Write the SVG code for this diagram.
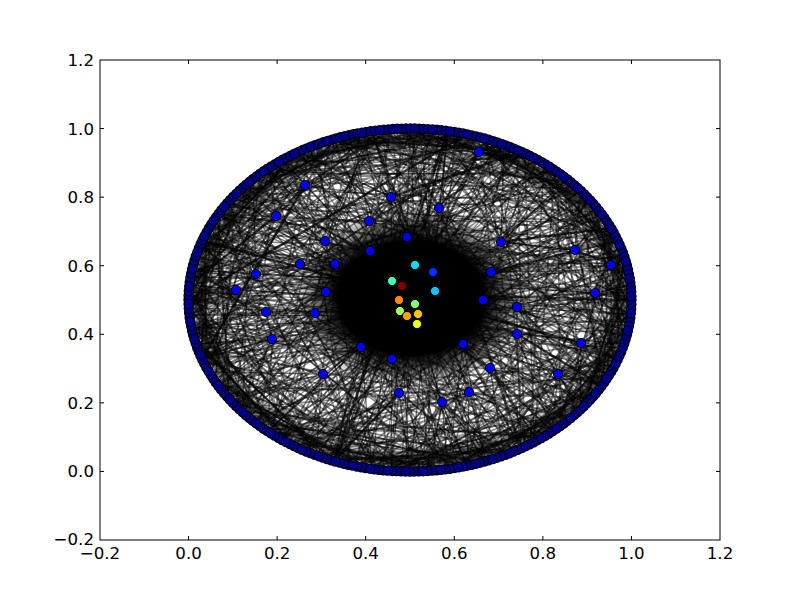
<svg xmlns="http://www.w3.org/2000/svg" xmlns:xlink="http://www.w3.org/1999/xlink" width="800" height="600" viewBox="0 0 800 600">
<style>
.e{fill:none;stroke:#000;stroke-opacity:.5;stroke-width:1.5;vector-effect:non-scaling-stroke}
.s{fill:none;stroke:#000;stroke-opacity:.45;stroke-width:1.2;vector-effect:non-scaling-stroke}
.c{fill:none;stroke:#000;stroke-opacity:.45;stroke-width:1.7;vector-effect:non-scaling-stroke}
.t{fill:none;stroke:#000;stroke-opacity:.6;stroke-width:2.6}
.tick{stroke:#000;stroke-width:1}
.lab{font-family:"DejaVu Sans","Liberation Sans",sans-serif;font-size:16.67px;fill:#000}
.pd{fill:none;stroke-linecap:round;stroke-dasharray:0 17.703}
.pk{stroke:#000;stroke-width:10.5}
.pb{stroke:#000088;stroke-width:8.5}
.n{stroke:#000;stroke-width:1}
.blue{fill:#0000f2}
</style>
<defs>
<radialGradient id="core" cx="50%" cy="50%" r="50%">
<stop offset="0" stop-color="#000" stop-opacity="1"/>
<stop offset="0.62" stop-color="#000" stop-opacity="1"/>
<stop offset="1" stop-color="#000" stop-opacity="0"/>
</radialGradient>
<g id="ch">
<path class="c" d="M631 300L299 152M631 285L202 359M628 270L218 214M624 256L372 469M618 241L391 129M611 228L521 448M602 214L192 270M591 202L299 448M580 190L268 169M567 179L602 386M552 169L189 315M537 160L429 471M521 152L229 202M504 145L240 410M486 139L552 431M467 134L189 300M448 131L334 461M429 129L196 256M410 129L486 461M391 129L209 372M372 131L624 344M353 134L283 440M334 139L618 241M316 145L448 469M299 152L631 315M283 160L196 344M268 169L552 431M253 179L504 145M240 190L391 471M229 202L618 359M218 214L580 190M209 228L253 421M202 241L504 455M196 256L467 134M192 270L316 455M189 285L580 410M189 300L624 256M189 315L334 139M192 330L467 466M196 344L628 330M202 359L537 160M209 372L253 179M218 386L591 398M229 398L448 131M240 410L521 448M253 421L192 270M268 431L611 228M283 440L372 131M299 448L611 372M316 455L202 241M334 461L567 179M353 466L567 421M372 469L240 190M391 471L628 270M410 471L196 344M429 471L429 129M448 469L602 214M467 466L218 386M486 461L283 160M504 455L628 330M521 448L486 139M537 440L189 300M552 431L299 448M567 421L353 134M580 410L631 285M591 398L353 466M602 386L218 214M611 372L521 152M618 359L268 431M624 344L410 129M628 330L410 471M631 315L253 179"/>
<path class="c" d="M631 300L580 190M628 270L537 160M602 214L467 134M567 179L391 129M521 152L334 139M429 129L268 169M372 131L218 214M299 152L196 256M240 190L189 315M202 241L209 372M189 285L253 421M196 344L299 448M229 398L372 469M283 440L448 469M334 461L521 448M410 471L567 421M486 461L611 372M537 440L628 330M580 410L628 270M618 359L618 241M631 315L591 202M624 256L486 139M467 134L283 160M316 145L189 285M218 214L229 398M192 330L334 461M268 431L486 461M391 471L602 386M521 448L631 300M631 285L611 228M552 169L486 139M391 129L316 145M253 179L209 228M189 300L202 359M253 421L316 455M410 471L486 461M567 421L618 359"/>
</g>
<g id="sp">
<path class="s" d="M415 265L631 300M435 291L631 285M392 281L628 270M402 286L624 256M399 300L618 241M415 304L611 228M400 311L602 214M407 316L591 202M418 314L580 190M417 324L567 179M415 265L552 169M435 291L537 160M392 281L521 152M402 286L504 145M399 300L486 139M415 304L467 134M400 311L448 131M407 316L429 129M418 314L410 129M417 324L391 129M415 265L372 131M435 291L353 134M392 281L334 139M402 286L316 145M399 300L299 152M415 304L283 160M400 311L268 169M407 316L253 179M418 314L240 190M417 324L229 202M415 265L218 214M435 291L209 228M392 281L202 241M402 286L196 256M399 300L192 270M415 304L189 285M400 311L189 300M407 316L189 315M418 314L192 330M417 324L196 344M415 265L202 359M435 291L209 372M392 281L218 386M402 286L229 398M399 300L240 410M415 304L253 421M400 311L268 431M407 316L283 440M418 314L299 448M417 324L316 455M415 265L334 461M435 291L353 466M392 281L372 469M402 286L391 471M399 300L410 471M415 304L429 471M400 311L448 469M407 316L467 466M418 314L486 461M417 324L504 455M415 265L521 448M435 291L537 440M392 281L552 431M402 286L567 421M399 300L580 410M415 304L591 398M400 311L602 386M407 316L611 372M418 314L618 359M417 324L624 344M415 265L628 330M435 291L631 315"/>
<path class="s" d="M399 300L631 292M407 316L630 277M415 265L626 263M417 324L621 248M392 281L615 234M415 304L607 221M418 314L597 208M435 291L586 196M400 311L574 184M402 286L560 174M399 300L545 164M407 316L529 156M415 265L513 148M417 324L495 142M392 281L477 136M415 304L458 132M418 314L439 130M435 291L420 129M400 311L400 129M402 286L382 130M399 300L363 132M407 316L344 136M415 265L325 142M417 324L307 148M392 281L291 156M415 304L275 164M418 314L260 174M435 291L246 184M400 311L234 196M402 286L223 208M399 300L213 221M407 316L205 234M415 265L199 248M417 324L194 263M392 281L190 277M415 304L189 292M418 314L189 308M435 291L190 323M400 311L194 337M402 286L199 352M399 300L205 366M407 316L213 379M415 265L223 392M417 324L234 404M392 281L246 416M415 304L260 426M418 314L275 436M435 291L291 444M400 311L307 452M402 286L325 458M399 300L344 464M407 316L363 468M415 265L382 470M417 324L400 471M392 281L420 471M415 304L439 470M418 314L458 468M435 291L477 464M400 311L495 458M402 286L513 452M399 300L529 444M407 316L545 436M415 265L560 426M417 324L574 416M392 281L586 404M415 304L597 392M418 314L607 379M435 291L615 366M400 311L621 352M402 286L626 337M399 300L630 323M407 316L631 308"/>
</g>
</defs>
<rect x="0" y="0" width="800" height="600" fill="#fff"/>
<g id="connectors">
<ellipse cx="410" cy="300" rx="211" ry="161" fill="none" stroke="#000" stroke-width="10" stroke-opacity=".5"/>
<ellipse cx="410" cy="300" rx="202" ry="152" fill="none" stroke="#000" stroke-width="8" stroke-opacity=".2"/>
<use xlink:href="#sp" href="#sp"/>
<use xlink:href="#ch" href="#ch"/>
<use xlink:href="#ch" href="#ch" transform="translate(410 300) matrix(0.7547 0.5079 -0.8475 0.7547 0 0) translate(-410 -300)"/>
<use xlink:href="#ch" href="#ch" transform="translate(410 300) matrix(-0.3907 0.7127 -1.1890 -0.3907 0 0) translate(-410 -300)"/>
<use xlink:href="#ch" href="#ch" transform="translate(410 300) matrix(-0.9455 -0.2521 0.4206 -0.9455 0 0) translate(-410 -300)"/>
<use xlink:href="#ch" href="#ch" transform="translate(410 300) matrix(0.2924 -0.7404 1.2352 0.2924 0 0) translate(-410 -300)"/>
<path class="e" d="M305 185L334 139M305 185L283 160M305 185L240 190M305 185L391 129M305 185L202 241M305 185L486 139M305 185L202 359M305 185L402 286M391 197L410 129M391 197L372 131M391 197L467 134M391 197L299 152M391 197L521 152M391 197L253 179M391 197L567 179M391 197L334 461M439 208L448 131M439 208L486 139M439 208L391 129M439 208L537 160M439 208L334 139M439 208L580 190M439 208L410 471M276 216L268 169M276 216L229 202M276 216L209 228M276 216L316 145M276 216L189 285M276 216L372 131M276 216L218 386M276 216L618 241M369 221L353 134M369 221L391 129M369 221L283 160M369 221L429 129M369 221L218 214M369 221L504 145M369 221L268 431M369 221L392 281M407 237L410 129M407 237L448 131M407 237L372 131M407 237L504 145M407 237L316 145M407 237L552 169M407 237L415 265M325 241L283 160M325 241L240 190M325 241L334 139M325 241L209 228M325 241L372 131M325 241L192 270M325 241L372 469M501 242L537 160M501 242L567 179M501 242L504 145M501 242L591 202M501 242L467 134M501 242L611 228M501 242L624 256M501 242L602 386M370 251L334 139M370 251L268 169M370 251L391 129M370 251L229 202M370 251L448 131M370 251L467 466"/>
<path class="e" d="M575 250L618 241M575 250L602 214M575 250L628 270M575 250L580 190M575 250L552 169M575 250L631 300M575 250L631 315M575 250L202 359M611 265L628 270M611 265L624 256M611 265L631 285M611 265L611 228M611 265L631 300M611 265L591 202M611 265L624 344M611 265L218 214M300 264L202 241M300 264L218 214M300 264L192 270M300 264L240 190M300 264L189 285M300 264L268 169M300 264L189 300M300 264L567 179M335 264L229 202M335 264L202 241M335 264L268 169M335 264L189 285M335 264L316 145M335 264L192 330M335 264L618 359M256 274L196 256M256 274L192 270M256 274L209 228M256 274L189 300M256 274L229 202M256 274L189 315M256 274L253 179M236 290L189 285M236 290L189 300M236 290L192 270M236 290L189 315M236 290L196 256M236 290L192 330M236 290L202 241M236 290L618 241M326 292L189 300M326 292L192 270M326 292L192 330M326 292L202 241M326 292L202 359M326 292L218 214M326 292L402 286M433 272L521 152M433 272L567 179M433 272L448 131M433 272L602 214M433 272L410 129M433 272L618 241M433 272L268 431M491 272L602 214M491 272L618 241M491 272L580 190M491 272L624 256M491 272L552 169M491 272L628 270M491 272L521 152M491 272L202 359"/>
<path class="e" d="M483 300L631 300M483 300L631 315M483 300L628 270M483 300L624 344M483 300L618 241M483 300L611 372M483 300L189 300M595 293L631 300M595 293L631 285M595 293L631 315M595 293L628 270M595 293L628 330M595 293L624 256M595 293L618 359M595 293L192 270M266 312L189 315M266 312L192 330M266 312L189 300M266 312L196 344M266 312L189 285M266 312L202 359M266 312L192 270M315 313L192 330M315 313L202 359M315 313L189 315M315 313L218 386M315 313L189 300M315 313L240 410M315 313L618 241M272 339L196 344M272 339L202 359M272 339L192 330M272 339L218 386M272 339L189 315M272 339L240 410M272 339L189 300M272 339L268 431M361 347L268 431M361 347L299 448M361 347L240 410M361 347L334 461M361 347L218 386M361 347L372 469M361 347L202 359M392 359L353 466M392 359L391 471M392 359L316 455M392 359L429 471M392 359L283 440M392 359L467 466M392 359L253 421M323 374L253 421M323 374L283 440M323 374L229 398M323 374L316 455M323 374L209 372M323 374L353 466M323 374L196 344M399 393L391 471M399 393L410 471M399 393L353 466M399 393L448 469M399 393L334 461M399 393L486 461M399 393L299 448"/>
<path class="e" d="M517 307L628 330M517 307L618 359M517 307L631 315M517 307L602 386M517 307L631 300M517 307L580 410M517 307L628 270M517 334L602 386M517 334L580 410M517 334L618 359M517 334L552 431M517 334L624 344M517 334L521 448M517 334L218 214M581 343L618 359M581 343L624 344M581 343L611 372M581 343L628 330M581 343L602 386M581 343L631 315M581 343L580 410M581 343L202 241M463 344L521 448M463 344L552 431M463 344L486 461M463 344L580 410M463 344L448 469M463 344L602 386M463 344L299 152M490 368L537 440M490 368L567 421M490 368L504 455M490 368L591 398M490 368L467 466M490 368L611 372M558 374L591 398M558 374L602 386M558 374L580 410M558 374L611 372M558 374L567 421M558 374L618 359M558 374L552 431M469 392L486 461M469 392L504 455M469 392L467 466M469 392L521 448M469 392L448 469M469 392L552 431M469 392L410 471M442 402L448 469M442 402L467 466M442 402L429 471M442 402L486 461M442 402L410 471M442 402L504 455M442 402L391 471M479 152L467 134M479 152L504 145M479 152L448 131M479 152L521 152M479 152L429 129M479 152L537 160M479 152L410 129"/>
<path class="e" d="M391 197L392 281M439 208L415 265M276 216L402 286M325 241L392 281M501 242L435 291M370 251L402 286M575 250L435 291M611 265L435 291M300 264L392 281M335 264L399 300M256 274L392 281M236 290L399 300M433 272L415 265M491 272L435 291M483 300L435 291M595 293L415 304M266 312L400 311M315 313L400 311M272 339L407 316M361 347L400 311M392 359L407 316M323 374L407 316M399 393L417 324M517 307L418 314M517 334L418 314M581 343L418 314M463 344L417 324M490 368L417 324M558 374L417 324M469 392L417 324M442 402L417 324M479 152L415 265M305 185L276 216M391 197L369 221M439 208L479 152M501 242L575 250M575 250L611 265M300 264L256 274M256 274L236 290M266 312L272 339M361 347L323 374M392 359L399 393M463 344L490 368M558 374L581 343M469 392L442 402M517 307L517 334"/>
<path class="t" d="M439 208L521 448M326 292L631 300M361 347L521 152M467 134L189 300M448 131L334 461M392 359L448 131M305 185L202 359M479 152L334 461M581 343L202 241M469 392L372 131M276 216L189 285M501 242L611 228M399 393L334 461M517 334L602 386M391 197L521 152"/>
<ellipse cx="411" cy="298" rx="118" ry="92" fill="url(#core)"/>
</g>
<g id="axes">
<rect x="100" y="60" width="620" height="480" fill="none" stroke="#000" stroke-width="1"/>
<path class="tick" d="M188.57 540v-4M277.14 540v-4M365.71 540v-4M454.29 540v-4M542.86 540v-4M631.43 540v-4M188.57 60v4M277.14 60v4M365.71 60v4M454.29 60v4M542.86 60v4M631.43 60v4M100 471.43h4M100 402.86h4M100 334.29h4M100 265.71h4M100 197.14h4M100 128.57h4M720 471.43h-4M720 402.86h-4M720 334.29h-4M720 265.71h-4M720 197.14h-4M720 128.57h-4"/>
<g class="lab" text-anchor="middle">
<text x="100" y="559">−0.2</text>
<text x="188.57" y="559">0.0</text>
<text x="277.14" y="559">0.2</text>
<text x="365.71" y="559">0.4</text>
<text x="454.29" y="559">0.6</text>
<text x="542.86" y="559">0.8</text>
<text x="631.43" y="559">1.0</text>
<text x="720" y="559">1.2</text>
</g>
<g class="lab" text-anchor="end">
<text x="94" y="545">−0.2</text>
<text x="94" y="477.4">0.0</text>
<text x="94" y="408.9">0.2</text>
<text x="94" y="340.3">0.4</text>
<text x="94" y="271.7">0.6</text>
<text x="94" y="203.1">0.8</text>
<text x="94" y="134.6">1.0</text>
<text x="94" y="66">1.2</text>
</g>
</g>
<g id="perimeter-nodes">
<ellipse class="pd pk" cx="410" cy="300" rx="221.43" ry="171.43"/>
<ellipse class="pd pb" cx="410" cy="300" rx="221.43" ry="171.43"/>
<ellipse class="pd pk" cx="410" cy="300" rx="221.43" ry="171.43" stroke-dashoffset="-4.426"/>
<ellipse class="pd pb" cx="410" cy="300" rx="221.43" ry="171.43" stroke-dashoffset="-4.426"/>
<ellipse class="pd pk" cx="410" cy="300" rx="221.43" ry="171.43" stroke-dashoffset="-8.851"/>
<ellipse class="pd pb" cx="410" cy="300" rx="221.43" ry="171.43" stroke-dashoffset="-8.851"/>
<ellipse class="pd pk" cx="410" cy="300" rx="221.43" ry="171.43" stroke-dashoffset="-13.277"/>
<ellipse class="pd pb" cx="410" cy="300" rx="221.43" ry="171.43" stroke-dashoffset="-13.277"/>
</g>
<g id="inner-nodes" class="n blue">
<circle id="n1" cx="305" cy="185" r="4.6"/>
<circle id="n2" cx="391" cy="197" r="4.6"/>
<circle id="n3" cx="439" cy="208" r="4.6"/>
<circle id="n4" cx="276" cy="216" r="4.6"/>
<circle id="n5" cx="369" cy="221" r="4.6"/>
<circle id="n6" cx="407" cy="237" r="4.6"/>
<circle id="n7" cx="325" cy="241" r="4.6"/>
<circle id="n8" cx="501" cy="242" r="4.6"/>
<circle id="n9" cx="370" cy="251" r="4.6"/>
<circle id="n10" cx="575" cy="250" r="4.6"/>
<circle id="n11" cx="611" cy="265" r="4.6"/>
<circle id="n12" cx="300" cy="264" r="4.6"/>
<circle id="n13" cx="335" cy="264" r="4.6"/>
<circle id="n14" cx="256" cy="274" r="4.6"/>
<circle id="n15" cx="236" cy="290" r="4.6"/>
<circle id="n16" cx="326" cy="292" r="4.6"/>
<circle id="n17" cx="433" cy="272" r="4.6" fill="#0030ff"/>
<circle id="n18" cx="491" cy="272" r="4.6"/>
<circle id="n19" cx="483" cy="300" r="4.6"/>
<circle id="n20" cx="595" cy="293" r="4.6"/>
<circle id="n21" cx="266" cy="312" r="4.6"/>
<circle id="n22" cx="315" cy="313" r="4.6"/>
<circle id="n23" cx="272" cy="339" r="4.6"/>
<circle id="n24" cx="361" cy="347" r="4.6"/>
<circle id="n25" cx="392" cy="359" r="4.6"/>
<circle id="n26" cx="323" cy="374" r="4.6"/>
<circle id="n27" cx="399" cy="393" r="4.6"/>
<circle id="n28" cx="517" cy="307" r="4.6"/>
<circle id="n29" cx="517" cy="334" r="4.6"/>
<circle id="n30" cx="581" cy="343" r="4.6"/>
<circle id="n31" cx="463" cy="344" r="4.6"/>
<circle id="n32" cx="490" cy="368" r="4.6"/>
<circle id="n33" cx="558" cy="374" r="4.6"/>
<circle id="n34" cx="469" cy="392" r="4.6"/>
<circle id="n35" cx="442" cy="402" r="4.6"/>
<circle id="n36" cx="479" cy="152" r="4.6"/>
</g>
<g id="hub-nodes" class="n">
<circle id="h1" cx="415" cy="265" r="4.6" fill="#00e0f8"/>
<circle id="h2" cx="435" cy="291" r="4.6" fill="#10c0ff"/>
<circle id="h3" cx="392" cy="281" r="4.6" fill="#40ffb0"/>
<circle id="h4" cx="402" cy="286" r="4.6" fill="#800000"/>
<circle id="h5" cx="399" cy="300" r="4.6" fill="#ff8800"/>
<circle id="h6" cx="415" cy="304" r="4.6" fill="#7dff7a"/>
<circle id="h7" cx="400" cy="311" r="4.6" fill="#a4ff53"/>
<circle id="h8" cx="407" cy="316" r="4.6" fill="#ffa000"/>
<circle id="h9" cx="418" cy="314" r="4.6" fill="#ffc400"/>
<circle id="h10" cx="417" cy="324" r="4.6" fill="#e4ff13"/>
</g>
</svg>
